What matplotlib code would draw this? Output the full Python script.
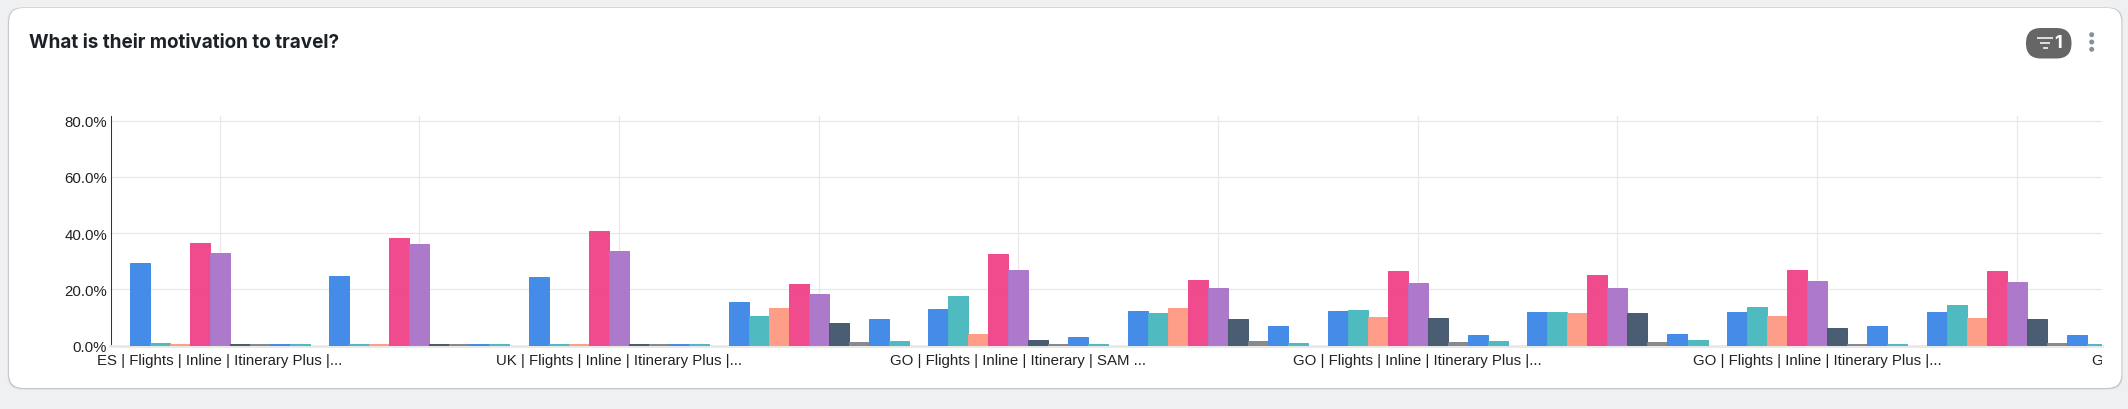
import matplotlib
matplotlib.use("Agg")
import matplotlib.pyplot as plt
import numpy as np
from matplotlib.patches import FancyBboxPatch, Circle
from matplotlib.transforms import Bbox

title = "What is their motivation to travel?"
categories = [
    "ES | Flights | Inline | Itinerary Plus |...", "",
    "UK | Flights | Inline | Itinerary Plus |...", "",
    "GO | Flights | Inline | Itinerary | SAM ...", "",
    "GO | Flights | Inline | Itinerary Plus |...", "",
    "GO | Flights | Inline | Itinerary Plus |...", "",
    "GO | Flights | Inline | Itinerary Plus |...",
]
y_ticks = [0, 20, 40, 60, 80]

s_blue = [29.5, 24.7, 24.5, 15.6, 13.1, 12.4, 12.3, 12.1, 12.1, 12.0]
s_teal = [1.1, 0.7, 0.4, 10.4, 17.8, 11.6, 12.7, 12.0, 13.8, 14.4]
s_orange = [0.5, 0.4, 0.4, 13.3, 4.0, 13.3, 10.1, 11.6, 10.4, 9.7]
s_pink = [36.6, 38.1, 40.9, 22.0, 32.5, 23.5, 26.6, 25.2, 26.9, 26.5]
s_purple = [33.0, 36.2, 33.7, 18.5, 27.0, 20.5, 22.1, 20.6, 23.0, 22.7]
s_dark = [0.5, 0.5, 0.5, 8.0, 2.1, 9.5, 9.9, 11.7, 6.2, 9.5]
s_gray = [0.5, 0.4, 0.4, 1.3, 0.5, 1.7, 1.3, 1.3, 0.6, 0.9]
s_blue2 = [0.5, 0.4, 0.4, 9.5, 3.2, 7.0, 3.7, 4.0, 6.9, 3.6]
s_teal2 = [0.5, 0.4, 0.4, 1.8, 0.5, 0.9, 1.7, 2.0, 0.6, 0.6]

series = [s_blue, s_teal, s_orange, s_pink, s_purple, s_dark, s_gray, s_blue2, s_teal2]
colors = ["#3F88E8", "#4AB8BF", "#FF9B84", "#EF4589", "#AB75CA", "#44586D", "#848689", "#3F88E8", "#4AB8BF"]

W, H = 2128, 410
fig = plt.figure(figsize=(W / 100, H / 100), dpi=100, facecolor="#EFF0F2")
plt.rcParams["font.family"] = ["Liberation Sans", "DejaVu Sans"]

# card chrome, in pixel coordinates
bg = fig.add_axes([0, 0, 1, 1], zorder=0)
bg.set_xlim(0, W)
bg.set_ylim(H, 0)
bg.axis("off")
for grow, a in [(2.5, 0.05), (1.5, 0.08), (0.7, 0.12)]:
    bg.add_patch(FancyBboxPatch((9 - grow * 0.6, 9 - grow * 0.3), 2112.5 + grow * 1.2, 380 + grow,
                                boxstyle="round,pad=0,rounding_size=14", fc="#000000", ec="none", alpha=a))
bg.add_patch(FancyBboxPatch((9, 9), 2112.5, 380, boxstyle="round,pad=0,rounding_size=14", fc="white", ec="none"))
bg.text(29, 42.5, title, fontsize=13.6, fontweight="bold", family=["Inter", "DejaVu Sans"],
        color="#1B2126", ha="left", va="center")

# filter pill and kebab menu
bg.add_patch(FancyBboxPatch((2026, 29), 45.5, 30.5, boxstyle="round,pad=0,rounding_size=15", fc="#666666", ec="none"))
for yy, half in [(38.5, 8), (43.5, 5), (48.5, 2.5)]:
    bg.plot([2045 - half, 2045 + half], [yy, yy], color="white", lw=1.1, solid_capstyle="butt")
bg.text(2058, 43.5, "1", fontsize=13, fontweight="bold", color="white", ha="center", va="center",
        family=["Inter", "DejaVu Sans"])
for yy in [35.7, 43, 50.3]:
    bg.add_patch(Circle((2091.7, yy), 2.5, fc="#84919A", ec="none"))

# chart
x_left, x_right, y_top, y_bottom = 110.5, 2102, 117, 346.6
ax = fig.add_axes([x_left / W, 1 - y_bottom / H, (x_right - x_left) / W, (y_bottom - y_top) / H],
                  facecolor="none", zorder=1)
group_px = 199.7
center0 = 219.6
ax.set_xlim((x_left - center0) / group_px, (x_right - center0) / group_px)
ax.set_ylim(0, (y_bottom - y_top) / 2.8125)

bar_w = 20 / group_px
x = np.arange(len(s_blue))
for k, (vals, col) in enumerate(zip(series, colors)):
    ax.bar(x + (k - 4) * bar_w, vals, width=bar_w, color=col, alpha=0.97, linewidth=0.7,
           edgecolor=matplotlib.colors.to_rgba(col, 0.45), zorder=3)

ax.set_xticks(np.arange(len(s_blue)))
ax.set_xticklabels([])
ax.set_yticks(y_ticks)
ax.set_yticklabels([f"{v:.1f}%" for v in y_ticks], fontsize=10.8, color="#222222")
ax.tick_params(axis="both", length=0, pad=3.5 * 0.72)
ax.grid(True, color="#E8E8E8", linewidth=0.9, zorder=0)
ax.set_axisbelow(True)
for side in ["top", "right"]:
    ax.spines[side].set_visible(False)
ax.spines["left"].set_color("#333333")
ax.spines["left"].set_linewidth(0.75)
ax.spines["bottom"].set_color("#E8E8E8")
ax.spines["bottom"].set_linewidth(2.0)

clip = Bbox([[0, 0], [x_right, H]])
for i, lab in enumerate(categories):
    if lab:
        t = ax.text(i, -14.5 / (y_bottom - y_top), lab, transform=ax.get_xaxis_transform(),
                    fontsize=10.85, color="#222222", ha="center", va="center", clip_on=True)
        t.set_clip_box(clip)

fig.savefig("out.png", dpi=100, facecolor=fig.get_facecolor())
